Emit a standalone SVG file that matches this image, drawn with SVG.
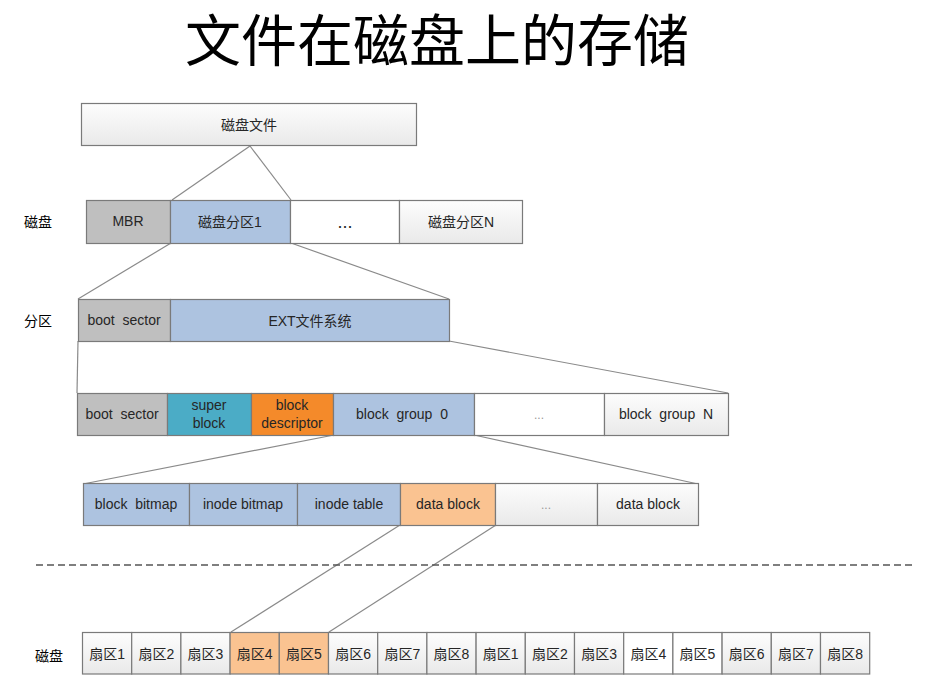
<svg xmlns="http://www.w3.org/2000/svg" width="937" height="693" viewBox="0 0 937 693">
<defs>
<linearGradient id="g" x1="0" y1="0" x2="0" y2="1"><stop offset="0" stop-color="#fdfdfd"/><stop offset="1" stop-color="#e9e9e9"/></linearGradient>
<style>
.b{stroke:#7a7a7a;stroke-width:1.2}
.gr{fill:url(#g)}.gy{fill:#bfbfbf}.bl{fill:#adc3e0}.tl{fill:#4bacc6}.or{fill:#f48a2a}.lo{fill:#fac391}.wh{fill:#ffffff}
text{font-family:"Liberation Sans","Noto Sans CJK SC",sans-serif;font-size:14px;fill:#262626;text-anchor:middle;white-space:pre}
.lab{text-anchor:start;fill:#000}
.c line{stroke:#8a8a8a;stroke-width:1.2}
</style>
</defs>
<rect width="937" height="693" fill="#fff"/>
<text id="title" x="437" y="61" style="font-size:56px;fill:#000">文件在磁盘上的存储</text>

<g class="c" id="connectors">
<line x1="250" y1="146" x2="172" y2="200"/>
<line x1="250" y1="146" x2="291" y2="200"/>
<line x1="171" y1="243" x2="78" y2="299"/>
<line x1="291" y1="243" x2="449" y2="299"/>
<line x1="78" y1="341" x2="77" y2="393"/>
<line x1="449" y1="341" x2="728" y2="393"/>
<line x1="334" y1="435" x2="83" y2="484"/>
<line x1="474" y1="435" x2="698" y2="484"/>
<line x1="400" y1="525" x2="231" y2="632"/>
<line x1="496" y1="525" x2="329" y2="632"/>
</g>
<line x1="36" y1="565" x2="912" y2="565" stroke="#555" stroke-width="1.3" stroke-dasharray="7,4"/>

<g id="diskfile"><rect class="b gr" x="81.5" y="103.5" width="335" height="42"/><text x="249" y="130">磁盘文件</text></g>

<text class="lab" x="24" y="227">磁盘</text>
<g id="mbr"><rect class="b gy" x="86.5" y="200.5" width="84" height="43"/><text x="128" y="226">MBR</text></g>
<g id="part1"><rect class="b bl" x="170.5" y="200.5" width="120" height="43"/><text x="230" y="227">磁盘分区1</text></g>
<g id="partdots"><rect class="b wh" x="290.5" y="200.5" width="109" height="43"/><text x="345" y="228" style="font-size:18px">...</text></g>
<g id="partN"><rect class="b gr" x="399.5" y="200.5" width="123" height="43"/><text x="461" y="227">磁盘分区N</text></g>

<text class="lab" x="24" y="326">分区</text>
<g id="p-boot"><rect class="b gy" x="78.5" y="299.5" width="92" height="42"/><text x="124" y="325">boot  sector</text></g>
<g id="p-ext"><rect class="b bl" x="170.5" y="299.5" width="279" height="42"/><text x="310" y="326">EXT文件系统</text></g>

<g id="f-boot"><rect class="b gy" x="77.5" y="393.5" width="90" height="42"/><text x="122" y="419">boot  sector</text></g>
<g id="f-super"><rect class="b tl" x="167.5" y="393.5" width="84" height="42"/><text x="209" y="410">super</text><text x="209" y="428">block</text></g>
<g id="f-desc"><rect class="b or" x="251.5" y="393.5" width="82" height="42"/><text x="292" y="410">block</text><text x="292" y="428">descriptor</text></g>
<g id="f-bg0"><rect class="b bl" x="333.5" y="393.5" width="141" height="42"/><text x="402" y="419">block  group  0</text></g>
<g id="f-dots"><rect class="b wh" x="474.5" y="393.5" width="130" height="42"/><text x="539" y="419" style="fill:#999;font-size:12px">...</text></g>
<g id="f-bgN"><rect class="b gr" x="604.5" y="393.5" width="124" height="42"/><text x="666" y="419">block  group  N</text></g>

<g id="g-bbm"><rect class="b bl" x="83.5" y="483.5" width="106" height="42"/><text x="136" y="509">block  bitmap</text></g>
<g id="g-ibm"><rect class="b bl" x="189.5" y="483.5" width="108" height="42"/><text x="243" y="509">inode bitmap</text></g>
<g id="g-it"><rect class="b bl" x="297.5" y="483.5" width="103" height="42"/><text x="349" y="509">inode table</text></g>
<g id="g-db1"><rect class="b lo" x="400.5" y="483.5" width="95" height="42"/><text x="448" y="509">data block</text></g>
<g id="g-dots"><rect class="b gr" x="495.5" y="483.5" width="102" height="42"/><text x="546" y="509" style="fill:#999;font-size:12px">...</text></g>
<g id="g-db2"><rect class="b gr" x="597.5" y="483.5" width="101" height="42"/><text x="648" y="509">data block</text></g>

<text class="lab" x="35" y="661">磁盘</text>
<g id="sectors">
<g id="s1"><rect class="b gr" x="82.5" y="632.5" width="49.2" height="41.5"/><text x="107.1" y="659">扇区1</text></g>
<g id="s2"><rect class="b gr" x="131.7" y="632.5" width="49.2" height="41.5"/><text x="156.3" y="659">扇区2</text></g>
<g id="s3"><rect class="b gr" x="180.9" y="632.5" width="49.2" height="41.5"/><text x="205.5" y="659">扇区3</text></g>
<g id="s4"><rect class="b lo" x="230.1" y="632.5" width="49.2" height="41.5"/><text x="254.7" y="659">扇区4</text></g>
<g id="s5"><rect class="b lo" x="279.3" y="632.5" width="49.2" height="41.5"/><text x="303.9" y="659">扇区5</text></g>
<g id="s6"><rect class="b gr" x="328.5" y="632.5" width="49.2" height="41.5"/><text x="353.1" y="659">扇区6</text></g>
<g id="s7"><rect class="b gr" x="377.7" y="632.5" width="49.2" height="41.5"/><text x="402.3" y="659">扇区7</text></g>
<g id="s8"><rect class="b gr" x="426.9" y="632.5" width="49.2" height="41.5"/><text x="451.5" y="659">扇区8</text></g>
<g id="s9"><rect class="b gr" x="476.1" y="632.5" width="49.2" height="41.5"/><text x="500.7" y="659">扇区1</text></g>
<g id="s10"><rect class="b gr" x="525.3" y="632.5" width="49.2" height="41.5"/><text x="549.9" y="659">扇区2</text></g>
<g id="s11"><rect class="b gr" x="574.5" y="632.5" width="49.2" height="41.5"/><text x="599.1" y="659">扇区3</text></g>
<g id="s12"><rect class="b wh" x="623.7" y="632.5" width="49.2" height="41.5"/><text x="648.3" y="659">扇区4</text></g>
<g id="s13"><rect class="b wh" x="672.9" y="632.5" width="49.2" height="41.5"/><text x="697.5" y="659">扇区5</text></g>
<g id="s14"><rect class="b gr" x="722.1" y="632.5" width="49.2" height="41.5"/><text x="746.7" y="659">扇区6</text></g>
<g id="s15"><rect class="b gr" x="771.3" y="632.5" width="49.2" height="41.5"/><text x="795.9" y="659">扇区7</text></g>
<g id="s16"><rect class="b gr" x="820.5" y="632.5" width="49.2" height="41.5"/><text x="845.1" y="659">扇区8</text></g>
</g>
</svg>
